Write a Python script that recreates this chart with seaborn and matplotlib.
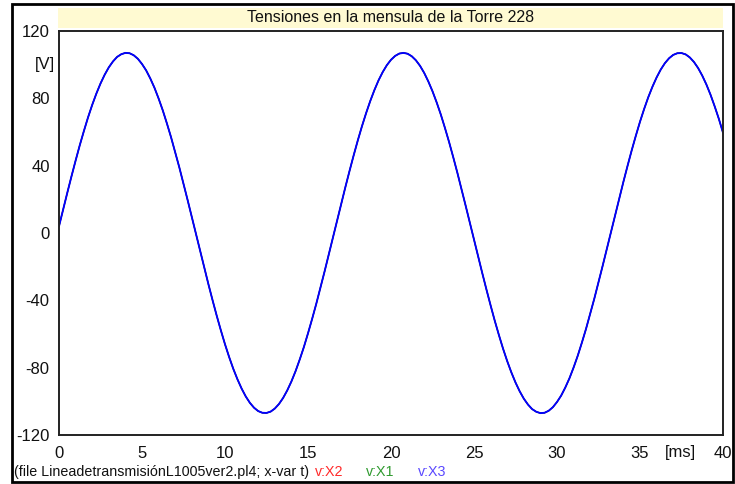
import matplotlib
matplotlib.use("Agg")
import matplotlib.pyplot as plt
from matplotlib.patches import Rectangle
import pandas as pd
import seaborn as sns

# Time axis [ms], sampled every 0.25 ms
t_ms = [i * 0.25 for i in range(161)]

# Phase voltages at the tower cross-arm [V]
v_x3 = [4.0, 14.0, 23.9, 33.6, 43.0, 52.1, 60.6, 68.7, 76.1, 82.8,
        88.8, 94.0, 98.4, 101.9, 104.6, 106.2, 107.0, 106.8, 105.6, 103.5,
        100.4, 96.6, 91.8, 86.3, 79.9, 72.9, 65.1, 56.9, 48.0, 38.9,
        29.3, 19.5, 9.5, -0.6, -10.7, -20.6, -30.4, -39.9, -49.1, -57.8,
        -66.1, -73.7, -80.7, -86.9, -92.4, -97.1, -100.9, -103.8, -105.8, -106.8,
        -106.9, -106.1, -104.3, -101.6, -98.0, -93.5, -88.2, -82.1, -75.2, -67.8,
        -59.6, -51.0, -42.0, -32.5, -22.8, -12.8, -2.7, 7.3, 17.3, 27.2,
        36.8, 46.1, 55.0, 63.4, 71.2, 78.4, 84.9, 90.7, 95.6, 99.7,
        102.9, 105.2, 106.6, 107.0, 106.5, 105.0, 102.6, 99.3, 95.1, 90.0,
        84.2, 77.6, 70.4, 62.4, 54.0, 45.0, 35.7, 26.0, 16.1, 6.1,
        -4.0, -14.0, -23.9, -33.6, -43.0, -52.1, -60.6, -68.7, -76.1, -82.8,
        -88.8, -94.0, -98.4, -101.9, -104.6, -106.2, -107.0, -106.8, -105.6, -103.5,
        -100.4, -96.6, -91.8, -86.3, -79.9, -72.9, -65.1, -56.9, -48.0, -38.9,
        -29.3, -19.5, -9.5, 0.6, 10.7, 20.6, 30.4, 39.9, 49.1, 57.8,
        66.1, 73.7, 80.7, 86.9, 92.4, 97.1, 100.9, 103.8, 105.8, 106.8,
        106.9, 106.1, 104.3, 101.6, 98.0, 93.5, 88.2, 82.1, 75.2, 67.8,
        59.6]
v_x2 = list(v_x3)
v_x1 = list(v_x3)

series_names = ["v:X2", "v:X1", "v:X3"]
series_colors = ["#ff0000", "#008000", "#0000ff"]
series_widths = [0.9, 0.9, 1.35]
label_colors = ["#ff2a2a", "#2f9a2f", "#5a48ff"]

y_ticks = [-120, -80, -40, 0, 40, 80, 120]
x_ticks = [0, 5, 10, 15, 20, 25, 30, 35, 40]

title = "Tensiones en la mensula de la Torre 228"
footer = "(file LineadetransmisiónL1005ver2.pl4; x-var t)"

frames = []
for name, vals in zip(series_names, [v_x2, v_x1, v_x3]):
    frames.append(pd.DataFrame({"t": t_ms, "v": vals, "serie": name}))
df = pd.concat(frames, ignore_index=True)

sns.set_theme(style="white")
plt.rcParams["font.family"] = ["Liberation Sans", "DejaVu Sans"]

W, H = 735, 484
fig = plt.figure(figsize=(W / 100, H / 100), dpi=100)
fig.patch.set_facecolor("white")

x0, x1, y_top, y_bot = 59, 723, 31, 435
ax = fig.add_axes([x0 / W, 1 - y_bot / H, (x1 - x0) / W, (y_bot - y_top) / H])

sns.lineplot(data=df, x="t", y="v", hue="serie", hue_order=series_names,
             palette=dict(zip(series_names, series_colors)),
             linewidth=1.0, legend=False, ax=ax, estimator=None, sort=False)
for line, lw in zip(ax.lines, series_widths):
    line.set_linewidth(lw)

ax.set_xlim(0, 40)
ax.set_ylim(-120, 120)
ax.set_xticks(x_ticks)
ax.set_yticks(y_ticks)
ax.set_xticklabels([str(v) for v in x_ticks])
ax.set_yticklabels([str(v) for v in y_ticks])
ax.set_xlabel("")
ax.set_ylabel("")
ax.tick_params(axis="both", direction="out", length=4.5, width=1.2,
               color="#222222", labelsize=12, labelcolor="#111111")
ax.tick_params(axis="y", pad=2.2)
ax.tick_params(axis="x", pad=3.5)
for s in ax.spines.values():
    s.set_visible(True)
    s.set_color("#222222")
    s.set_linewidth(1.4)

# Unit labels
ax.text(-0.006, 100, "[V]", transform=ax.get_yaxis_transform(),
        ha="right", va="center", fontsize=12, color="#111111")
ax.text(37.45, -0.043, "[ms]", transform=ax.get_xaxis_transform(),
        ha="center", va="center", fontsize=12, color="#111111")

# Title band
fig.patches.append(Rectangle((58 / W, 1 - 28 / H), (723 - 58) / W, 20 / H,
                             transform=fig.transFigure, facecolor="#fffad2",
                             edgecolor="none", zorder=0))
fig.text(391 / W, 1 - 17.5 / H, title, ha="center", va="center",
         fontsize=11.5, color="#111111")

# Footer with file info and series labels
fig.text(14 / W, 1 - 472 / H, footer, ha="left", va="center",
         fontsize=10.3, color="#111111")
for xpix, name, col in zip([315, 366, 418], series_names, label_colors):
    fig.text(xpix / W, 1 - 472 / H, name, ha="left", va="center",
             fontsize=10.3, color=col)

# Outer frame
fig.patches.append(Rectangle((12 / W, 1 - 482 / H), (733 - 12) / W, (482 - 4) / H,
                             transform=fig.transFigure, facecolor="none",
                             edgecolor="black", linewidth=2, zorder=5))

fig.savefig("out.png", dpi=100)
